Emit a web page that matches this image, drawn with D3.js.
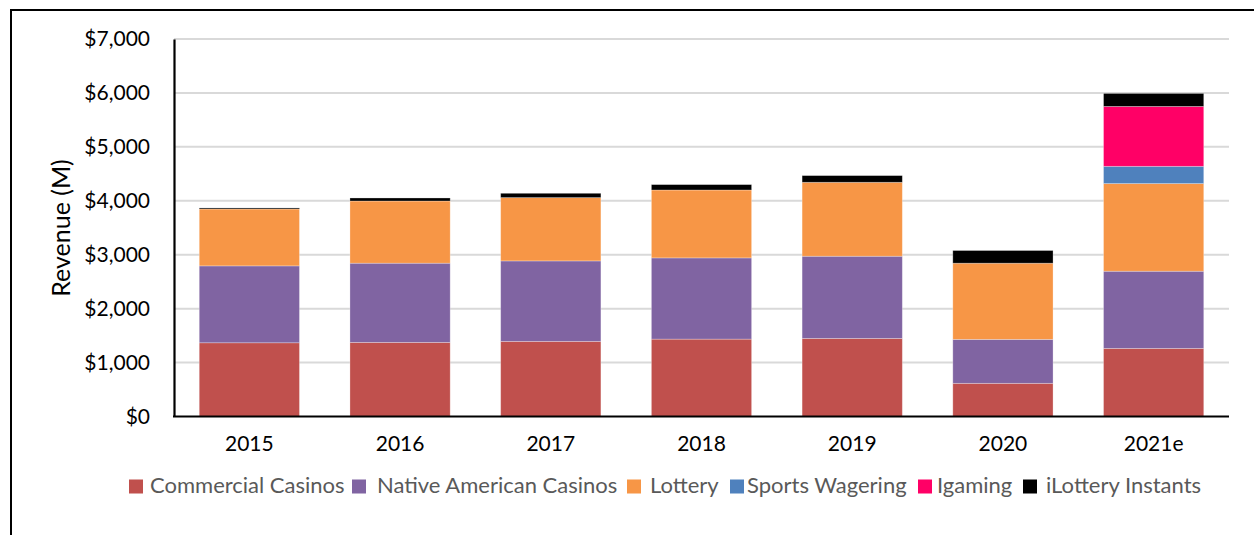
<!DOCTYPE html>
<html>
<head>
<meta charset="utf-8">
<script src="https://cdn.jsdelivr.net/npm/d3@7"></script>
<style>
  html, body { margin: 0; padding: 0; background: #fff; }
  svg { display: block; font-family: Lato, "Open Sans", sans-serif; }
</style>
</head>
<body>
<svg id="chart" width="1254" height="535"></svg>
<script>
// Gaming revenue by year, $ millions
const years = ["2015", "2016", "2017", "2018", "2019", "2020", "2021e"];
const commercialCasinos = [1367, 1374, 1393, 1435, 1448, 615, 1263];
const nativeAmericanCasinos = [1426, 1469, 1492, 1506, 1524, 815, 1431];
const lottery = [1055, 1153, 1174, 1259, 1371, 1413, 1625];
const sportsWagering = [0, 0, 0, 0, 0, 0, 320];
const igaming = [0, 0, 0, 0, 0, 0, 1111];
const iLotteryInstants = [19, 56, 80, 100, 124, 235, 241];
const yTicks = [0, 1000, 2000, 3000, 4000, 5000, 6000, 7000];

const seriesNames = ["Commercial Casinos", "Native American Casinos", "Lottery",
  "Sports Wagering", "Igaming", "iLottery Instants"];
const seriesValues = [commercialCasinos, nativeAmericanCasinos, lottery,
  sportsWagering, igaming, iLotteryInstants];
const seriesColors = ["#C0504D", "#8064A2", "#F79646", "#4F81BD", "#FF0066", "#000000"];

const rows = years.map((y, i) => {
  const r = { year: y };
  seriesNames.forEach((n, k) => r[n] = seriesValues[k][i]);
  return r;
});

const svg = d3.select("#chart");
const plot = { left: 174, right: 1229, top: 39, bottom: 416.5 };

// outer frame (top and left edges)
svg.append("path")
  .attr("d", `M11,535 V10 H1254`)
  .attr("fill", "none").attr("stroke", "#000").attr("stroke-width", 2);

const x = d3.scaleBand().domain(years).range([plot.left, plot.right]).paddingInner(0.335).paddingOuter(0.1675);
const y = d3.scaleLinear().domain([0, 7000]).range([plot.bottom, plot.top]);

// gridlines
svg.append("g").selectAll("line").data(yTicks.slice(1)).join("line")
  .attr("x1", plot.left).attr("x2", plot.right)
  .attr("y1", d => y(d)).attr("y2", d => y(d))
  .attr("stroke", "#D9D9D9").attr("stroke-width", 2);

// stacked bars
const stack = d3.stack().keys(seriesNames)(rows);
const color = d3.scaleOrdinal().domain(seriesNames).range(seriesColors);
svg.append("g").selectAll("g").data(stack).join("g")
  .attr("fill", d => color(d.key))
  .selectAll("rect").data(d => d.filter(s => s[1] - s[0] > 0)).join("rect")
  .attr("x", d => x(d.data.year))
  .attr("width", x.bandwidth())
  .attr("y", d => y(d[1]))
  .attr("height", d => y(d[0]) - y(d[1]))
  .attr("stroke", "#ffffff").attr("stroke-opacity", 0.35).attr("stroke-width", 0.8);

// y axis
const yAxis = svg.append("g").attr("transform", `translate(${plot.left},0)`)
  .call(d3.axisLeft(y).tickValues(yTicks).tickSize(0).tickPadding(24)
    .tickFormat(d => "$" + d3.format(",")(d)));
yAxis.select(".domain").attr("stroke", "#000").attr("stroke-width", 2.2);
yAxis.selectAll("text").attr("font-size", 21).attr("fill", "#000")
  .attr("font-family", "Lato, sans-serif");

// x axis
const xAxis = svg.append("g").attr("transform", `translate(0,${plot.bottom})`)
  .call(d3.axisBottom(x).tickSize(0).tickPadding(20));
xAxis.select(".domain").attr("stroke", "#000").attr("stroke-width", 2.2)
  .attr("d", `M${plot.left - 1},0H${plot.right}`);
xAxis.selectAll("text").attr("font-size", 21).attr("fill", "#000")
  .attr("font-family", "Lato, sans-serif");

// axis title
svg.append("text")
  .attr("transform", "translate(70,228) rotate(-90)")
  .attr("text-anchor", "middle")
  .attr("font-size", 25).attr("fill", "#000")
  .text("Revenue (M)");

// legend
const legendX = [129, 352, 627, 730, 918, 1023];
const legendTextX = [150, 377, 650, 747, 937, 1046];
const legend = svg.append("g");
seriesNames.forEach((n, k) => {
  legend.append("rect")
    .attr("x", legendX[k]).attr("y", 479.5).attr("width", 14).attr("height", 14)
    .attr("fill", seriesColors[k]);
  legend.append("text")
    .attr("x", legendTextX[k]).attr("y", 493)
    .attr("font-size", 22).attr("fill", "#595959")
    .text(n);
});
</script>
</body>
</html>
